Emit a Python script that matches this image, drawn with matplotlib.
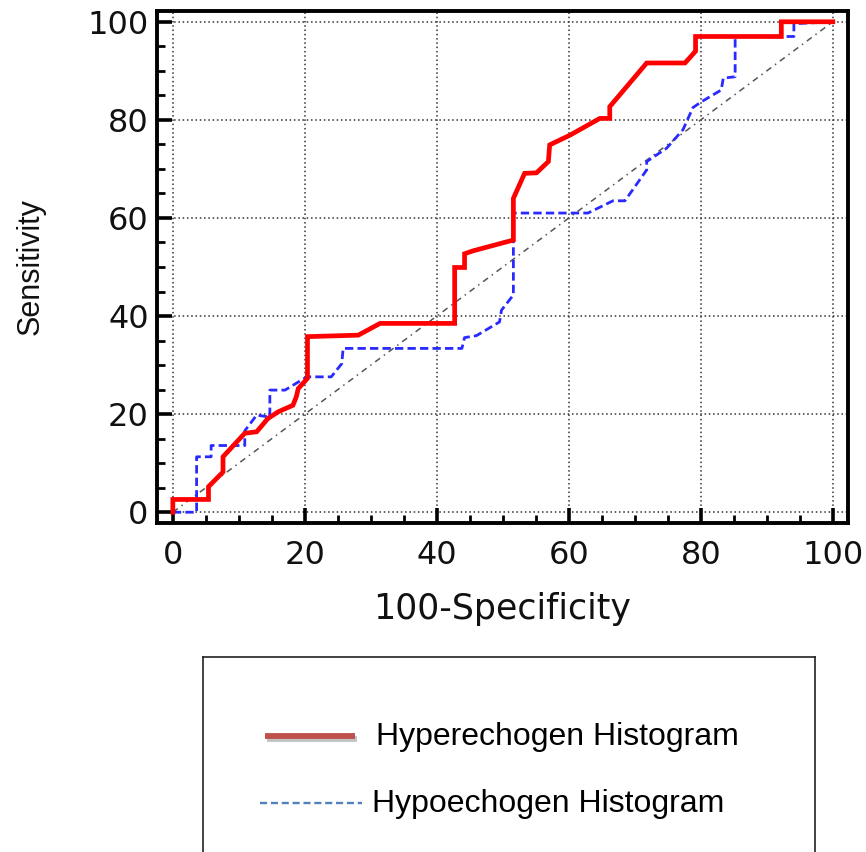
import matplotlib
matplotlib.use("Agg")
import matplotlib.pyplot as plt
import matplotlib.patheffects as pe

# ---- data ----
hyper_x = [0, 0, 5.4, 5.4, 7.6, 7.6, 10.9, 12.7, 14.4, 16.0, 18.2, 18.7, 19.0, 20.4, 20.4,
           28.1, 31.4, 42.7, 42.7, 44.2, 44.2, 45.5, 51.6, 51.6, 53.3, 55.1, 56.9, 57.1,
           60.2, 64.7, 66.2, 66.2, 71.8, 77.6, 79.2, 79.2, 92.2, 92.2, 100]
hyper_y = [0, 2.6, 2.6, 5.2, 8.2, 11.3, 16.1, 16.4, 19.1, 20.5, 21.8, 23.5, 25.2, 27.3, 35.8,
           36.1, 38.5, 38.5, 49.9, 49.9, 52.7, 53.3, 55.5, 64.0, 69.1, 69.2, 71.5, 74.9,
           76.9, 80.3, 80.3, 82.7, 91.6, 91.6, 94.0, 97.0, 97.0, 100, 100]

hypo_x = [0, 3.6, 3.6, 5.8, 5.8, 10.9, 10.9, 12.7, 14.7, 14.7, 17.0, 20.3, 24.0, 25.6, 25.8,
          43.8, 44.2, 46.0, 49.5, 49.8, 51.6, 51.6, 62.9, 66.7, 68.5, 71.8, 71.8, 74.8,
          77.3, 78.8, 80.1, 83.1, 83.4, 85.2, 85.2, 94.1, 94.1, 100]
hypo_y = [0, 0, 11.3, 11.3, 13.6, 13.6, 16.6, 19.8, 19.4, 24.9, 24.9, 27.6, 27.6, 30.3, 33.4,
          33.4, 35.6, 36.0, 38.8, 41.2, 44.3, 61.0, 61.0, 63.5, 63.5, 69.8, 71.5, 74.2,
          78.0, 82.5, 83.7, 86.1, 88.5, 88.8, 97.0, 97.0, 99.6, 100]

ref_x = [0, 100]
ref_y = [0, 100]

ticks = [0, 20, 40, 60, 80, 100]
minor_ticks = list(range(0, 101, 5))
series_names = ["Hyperechogen Histogram", "Hypoechogen Histogram"]
x_label = "100-Specificity"
y_label = "Sensitivity"

# ---- figure ----
W, H = 866, 852
fig = plt.figure(figsize=(W / 100, H / 100), dpi=100)
fig.patch.set_facecolor("white")

ax = fig.add_axes([157 / W, 1 - 523 / H, (848 - 157) / W, (523 - 11) / H])
ax.set_xlim(-2.4, 102.3)
ax.set_ylim(-2.2, 102.2)

# grid
for t in ticks:
    ax.axvline(t, color="#333333", lw=1.1, ls=(0, (1, 1.8)), zorder=1)
    ax.axhline(t, color="#333333", lw=1.1, ls=(0, (1, 1.8)), zorder=1)

# reference diagonal
ax.plot(ref_x, ref_y, color="#555555", lw=1.1, ls=(0, (4, 3, 1, 3)), zorder=2)

# curves
ax.plot(hypo_x, hypo_y, color="#2a2aff", lw=2.0, ls=(0, (3, 1.5)), zorder=3)
ax.plot(hyper_x, hyper_y, color="#ff0000", lw=3.4, zorder=4, solid_joinstyle="miter")

font = "DejaVu Sans"
ax.set_xticks(ticks)
ax.set_yticks(ticks)
ax.set_xticks(minor_ticks, minor=True)
ax.set_yticks(minor_ticks, minor=True)
ax.set_xticklabels([str(t) for t in ticks], fontsize=23, family=font, color="#111111")
ax.set_yticklabels([str(t) for t in ticks], fontsize=23, family=font, color="#111111")
ax.tick_params(which="major", direction="in", length=11, width=2.6, color="black")
ax.tick_params(which="minor", direction="in", length=6, width=2.0, color="black")
ax.tick_params(axis="x", which="major", pad=12)
ax.tick_params(axis="y", which="major", pad=6)
for s in ax.spines.values():
    s.set_linewidth(2.8)
    s.set_color("black")

ax.set_xlabel(x_label, fontsize=25, family=font, color="#111111", labelpad=15)
ax.set_ylabel(y_label, fontsize=22, family="Liberation Sans", color="#111111", labelpad=30)

# ---- legend box (drawn in pixel coordinates) ----
lg = fig.add_axes([203 / W, -0.02, (815 - 203) / W, (852 - 657) / H + 0.02])
lg.set_xlim(203, 815)
lg.set_ylim(852 + 0.02 * H, 657)
lg.set_xticks([])
lg.set_yticks([])
for k, s in lg.spines.items():
    s.set_linewidth(1.2)
    s.set_color("#222222")

lg.plot([265, 355], [736, 736], color="#c0504d", lw=4.2, solid_capstyle="butt",
        path_effects=[pe.SimpleLineShadow(offset=(1.5, -2), shadow_color="#888888", alpha=0.5),
                      pe.Normal()])
lg.plot([260, 362], [803, 803], color="#4f81bd", lw=1.7, ls=(0, (3, 1.6)))
lg.text(376, 737, series_names[0], fontsize=23, family="Liberation Sans",
        va="center", ha="left", color="black")
lg.text(372, 804, series_names[1], fontsize=23, family="Liberation Sans",
        va="center", ha="left", color="black")

fig.savefig("out.png", dpi=100, facecolor="white")
